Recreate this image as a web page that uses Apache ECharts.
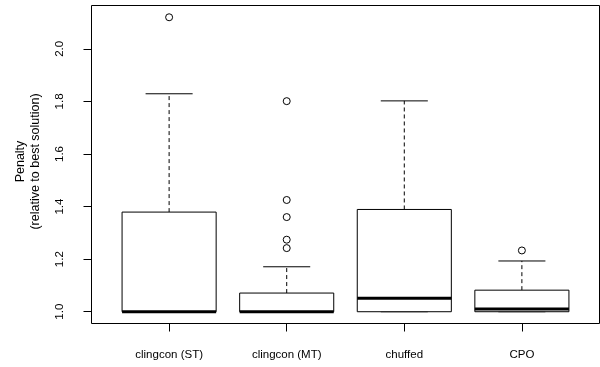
<!DOCTYPE html>
<html>
<head>
<meta charset="utf-8">
<script src="https://cdn.jsdelivr.net/npm/echarts@6/dist/echarts.min.js"></script>
<style>
  html, body { margin: 0; padding: 0; background: #fff; }
  #chart { width: 600px; height: 367px; }
</style>
</head>
<body>
<div id="chart"></div>
<script>
// boxplot stats (lower whisker, Q1, median, Q3, upper whisker)
var categories = ['clingcon (ST)', 'clingcon (MT)', 'chuffed', 'CPO'];
var lowWhisker = [1.0, 1.0, 1.0, 1.0];
var q1 = [1.0, 1.0, 1.0, 1.0];
var median = [1.0, 1.0, 1.051, 1.01];
var q3 = [1.379, 1.071, 1.389, 1.082];
var highWhisker = [1.829, 1.171, 1.802, 1.193];

// outliers: category position (1-based) and value
var outlierCat = [1, 2, 2, 2, 2, 2, 4];
var outlierVal = [2.12, 1.801, 1.425, 1.360, 1.274, 1.242, 1.233];

var yTicks = [1.0, 1.2, 1.4, 1.6, 1.8, 2.0];
var xTicks = [1, 2, 3, 4];

var boxData = [];
for (var i = 0; i < categories.length; i++) {
    boxData.push([i + 1, lowWhisker[i], q1[i], median[i], q3[i], highWhisker[i]]);
}
var outlierData = [];
for (var j = 0; j < outlierCat.length; j++) {
    outlierData.push([outlierCat[j], outlierVal[j]]);
}

var FONT = '"Liberation Sans", Arial, Helvetica, sans-serif';
var INK = '#000';

function renderBox(params, api) {
    var x = api.value(0);
    var lo = api.value(1), a = api.value(2), m = api.value(3), b = api.value(4), hi = api.value(5);
    var half = 0.4, cap = 0.2;
    var pTL = api.coord([x - half, b]);
    var pBR = api.coord([x + half, a]);
    var thin = { stroke: INK, lineWidth: 1, fill: null };
    var dashed = { stroke: INK, lineWidth: 1, lineDash: [4, 3], fill: null };
    function seg(x1, y1, x2, y2, style) {
        var p1 = api.coord([x1, y1]);
        var p2 = api.coord([x2, y2]);
        return { type: 'line', shape: { x1: p1[0], y1: p1[1], x2: p2[0], y2: p2[1] }, style: style };
    }
    return {
        type: 'group',
        children: [
            seg(x, b, x, hi, dashed),
            seg(x - cap, hi, x + cap, hi, thin),
            seg(x, a, x, lo, dashed),
            seg(x - cap, lo, x + cap, lo, thin),
            {
                type: 'rect',
                shape: { x: pTL[0], y: pTL[1], width: pBR[0] - pTL[0], height: pBR[1] - pTL[1] },
                style: { stroke: INK, lineWidth: 1, fill: '#fff' }
            },
            seg(x - half, m, x + half, m, { stroke: INK, lineWidth: 3 })
        ]
    };
}

var chart = echarts.init(document.getElementById('chart'));
chart.setOption({
    animation: false,
    backgroundColor: '#fff',
    textStyle: { fontFamily: FONT },
    grid: {
        left: 91.5, right: 0.5, top: 5.5, bottom: 43.5,
        show: true, borderColor: INK, borderWidth: 1, backgroundColor: 'transparent'
    },
    xAxis: {
        type: 'value',
        min: 0.34, max: 4.66,
        splitLine: { show: false },
        axisLine: { show: false },
        axisTick: { show: true, length: 8, customValues: xTicks, lineStyle: { color: INK } },
        axisLabel: {
            customValues: xTicks,
            margin: 25,
            fontSize: 11.5,
            color: INK,
            fontFamily: FONT,
            formatter: function (v) { return categories[Math.round(v) - 1] || ''; }
        }
    },
    yAxis: {
        type: 'value',
        min: 0.9552, max: 2.1648,
        name: 'Penalty\n(relative to best solution)',
        nameLocation: 'middle',
        nameRotate: 90,
        nameGap: 48,
        nameTextStyle: { fontSize: 12.5, color: INK, fontFamily: FONT, lineHeight: 15, padding: [0, 0, 0, 6] },
        splitLine: { show: false },
        axisLine: { show: false },
        axisTick: { show: true, length: 8, customValues: yTicks, lineStyle: { color: INK } },
        axisLabel: {
            customValues: yTicks,
            rotate: 90,
            margin: 26,
            fontSize: 11.5,
            color: INK,
            fontFamily: FONT,
            formatter: function (v) { return v.toFixed(1); }
        }
    },
    series: [
        {
            type: 'custom',
            renderItem: renderBox,
            encode: { x: 0, y: [1, 2, 3, 4, 5] },
            data: boxData,
            silent: true
        },
        {
            type: 'scatter',
            symbol: 'circle',
            symbolSize: 7,
            itemStyle: { color: '#fff', borderColor: INK, borderWidth: 1, opacity: 1 },
            data: outlierData,
            silent: true
        }
    ]
});
</script>
</body>
</html>
